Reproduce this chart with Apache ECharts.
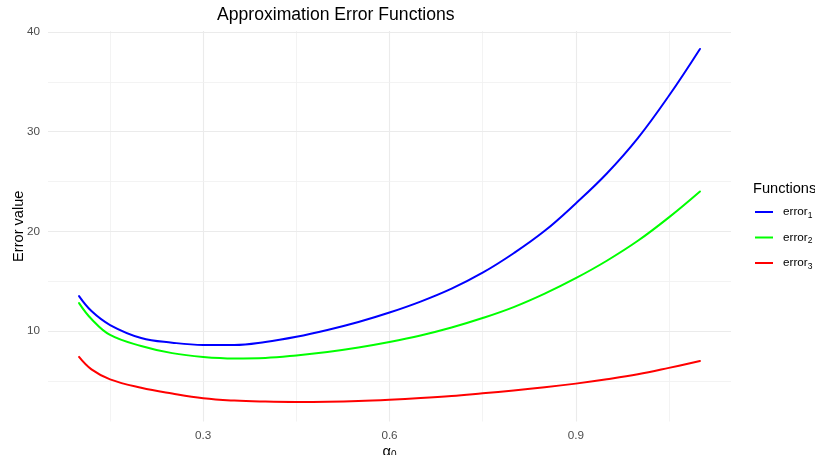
<!DOCTYPE html>
<html>
<head>
<meta charset="utf-8">
<script src="https://cdn.jsdelivr.net/npm/echarts@6/dist/echarts.min.js"></script>
<style>html,body{margin:0;padding:0;background:#fff;}#c{width:815px;height:455px;}</style>
</head>
<body>
<div id="c"></div>
<script>
const xValues = [0.10, 0.12, 0.15, 0.20, 0.25, 0.30, 0.35, 0.40, 0.45, 0.50, 0.55, 0.60, 0.65, 0.70, 0.75, 0.80, 0.85, 0.90, 0.95, 1.00, 1.05, 1.10];
const error1 = [13.5, 12.0, 10.6, 9.3, 8.83, 8.6, 8.6, 8.9, 9.42, 10.1, 10.9, 11.85, 12.95, 14.25, 15.85, 17.8, 20.05, 22.8, 25.8, 29.35, 33.6, 38.3];
const error2 = [12.8, 11.2, 9.6, 8.5, 7.78, 7.4, 7.25, 7.3, 7.55, 7.9, 8.35, 8.9, 9.55, 10.35, 11.3, 12.4, 13.75, 15.3, 17.05, 19.05, 21.4, 24.0];
const error3 = [7.4, 6.15, 5.15, 4.3, 3.72, 3.25, 3.02, 2.92, 2.88, 2.9, 2.97, 3.1, 3.27, 3.48, 3.75, 4.03, 4.35, 4.72, 5.15, 5.65, 6.3, 7.0];
const seriesNames = ['error1', 'error2', 'error3'];
const seriesColors = ['#0000ff', '#00ff00', '#ff0000'];
const xTickLabels = [0.3, 0.6, 0.9];
const xMinorGrid = [0.15, 0.45, 0.75, 1.05];
const yTickLabels = [10, 20, 30, 40];
const yMinorGrid = [5, 15, 25, 35];

const FONT = 'Liberation Sans, Arial, sans-serif';
const chart = echarts.init(document.getElementById('c'));

const pairs = (ys) => xValues.map((x, i) => [x, ys[i]]);
const gridColor = '#ebebeb';

const gridLines = [];
xTickLabels.forEach(v => gridLines.push({ xAxis: v, lineStyle: { color: gridColor, width: 1.1, type: 'solid' } }));
xMinorGrid.forEach(v => gridLines.push({ xAxis: v, lineStyle: { color: '#f0f0f0', width: 0.8, type: 'solid' } }));
yTickLabels.forEach(v => gridLines.push({ yAxis: v, lineStyle: { color: gridColor, width: 1.1, type: 'solid' } }));
yMinorGrid.forEach(v => gridLines.push({ yAxis: v, lineStyle: { color: '#f0f0f0', width: 0.8, type: 'solid' } }));

const allSeries = [{
  name: 'grid',
  type: 'line',
  data: [],
  silent: true,
  z: 0,
  markLine: { silent: true, z: 0, symbol: ['none', 'none'], label: { show: false }, animation: false, data: gridLines }
}];
[error1, error2, error3].forEach((ys, i) => {
  allSeries.push({
    name: seriesNames[i],
    type: 'line',
    data: pairs(ys),
    smooth: 0.4,
    showSymbol: false,
    symbol: 'none',
    z: 10,
    lineStyle: { color: seriesColors[i], width: 2, cap: 'round', join: 'round' },
    itemStyle: { color: seriesColors[i] }
  });
});

chart.setOption({
  animation: false,
  backgroundColor: '#ffffff',
  textStyle: { fontFamily: FONT },
  title: [{
    text: 'Approximation Error Functions',
    left: 212, top: 1,
    textStyle: { fontFamily: FONT, fontSize: 17.6, fontWeight: 'normal', color: '#000' }
  }, {
    text: 'Functions',
    left: 748, top: 176,
    textStyle: { fontFamily: FONT, fontSize: 14.6, fontWeight: 'normal', color: '#000' }
  }],
  grid: { left: 48, right: 84, top: 31, bottom: 33.5, containLabel: false, outerBoundsMode: 'none' },
  legend: {
    data: seriesNames,
    orient: 'vertical',
    left: 750, top: 199,
    itemWidth: 18, itemHeight: 2,
    itemGap: 9.5,
    icon: 'rect',
    selectedMode: false,
    textStyle: {
      fontFamily: FONT, fontSize: 11.7, color: '#000', lineHeight: 14,
      rich: {
        b: { fontFamily: FONT, fontSize: 11.7, color: '#000', lineHeight: 14, padding: [0, 0, 0, 5] },
        s: { fontFamily: FONT, fontSize: 8.5, color: '#000', lineHeight: 14, padding: [7, 0, 0, 0] }
      }
    },
    formatter: (name) => '{b|error}{s|' + name.slice(5) + '}'
  },
  xAxis: {
    type: 'value',
    min: 0.05, max: 1.15,
    axisLine: { show: false },
    axisTick: { show: false },
    splitLine: { show: false },
    axisLabel: { customValues: xTickLabels, color: '#4d4d4d', fontSize: 11.7, fontFamily: FONT, margin: 8 },
    name: '{m|α}{s|0}',
    nameLocation: 'middle',
    nameGap: 21,
    nameMoveOverlap: false,
    nameTextStyle: {
      rich: {
        m: { fontFamily: FONT, fontSize: 14.6, color: '#000' },
        s: { fontFamily: FONT, fontSize: 10, color: '#000', padding: [8, 0, 0, 0] }
      }
    }
  },
  yAxis: {
    type: 'value',
    min: 0.92, max: 40.1,
    axisLine: { show: false },
    axisTick: { show: false },
    splitLine: { show: false },
    axisLabel: { customValues: yTickLabels, color: '#4d4d4d', fontSize: 11.7, fontFamily: FONT, margin: 8 },
    name: 'Error value',
    nameLocation: 'middle',
    nameGap: 22,
    nameMoveOverlap: false,
    nameTextStyle: { fontFamily: FONT, fontSize: 14.6, color: '#000' }
  },
  series: allSeries
});
</script>
</body>
</html>
